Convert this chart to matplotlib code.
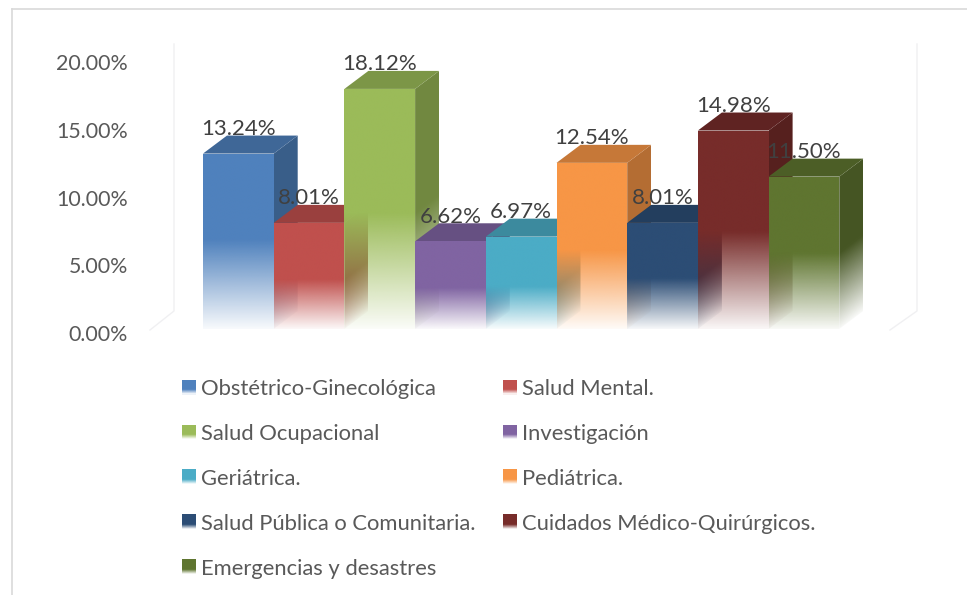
import numpy as np
import matplotlib
matplotlib.use("Agg")
import matplotlib.pyplot as plt
from matplotlib.patches import Patch, Polygon, Rectangle
from matplotlib.legend_handler import HandlerBase
from matplotlib.colors import to_rgb
from matplotlib.lines import Line2D

categories = ["Obstétrico-Ginecológica", "Salud Mental.", "Salud Ocupacional", "Investigación",
              "Geriátrica.", "Pediátrica.", "Salud Pública o Comunitaria.",
              "Cuidados Médico-Quirúrgicos.", "Emergencias y desastres"]
values = [13.24, 8.01, 18.12, 6.62, 6.97, 12.54, 8.01, 14.98, 11.50]
fade_from = [6.7, 3.7, 8.7, 3.1, 3.2, 5.9, 3.8, 7.3, 5.7]
colors = ["#4F81BD", "#C0504D", "#9BBB59", "#8064A2", "#4BACC6", "#F79646", "#2C4D75", "#772C2A", "#5F7530"]
y_ticks = [0, 5, 10, 15, 20]
y_tick_labels = ["0.00%", "5.00%", "10.00%", "15.00%", "20.00%"]

W, H = 967, 595
FONT = "Lato"
FS = 15.85
PXU, PYU = 70.7, 13.25         # pixels per bar / per percentage point
DX, DY = 24 / PXU, 18 / PYU    # 3-D depth in data units

fig = plt.figure(figsize=(W / 100, H / 100), dpi=100, facecolor="white")
def rect(l, t, r, b):
    return [l / W, 1 - b / H, (r - l) / W, (b - t) / H]

# Outer frame and faint 3-D walls (figure decoration)
for xs, ys, c, lw in [([11.5, 11.5], [595, 8.5], "#D9D9D9", 1.2), ([11.5, 967], [8.5, 8.5], "#D9D9D9", 1.2),
                      ([174, 174, 150], [44, 311, 330], "#F0F0F2", 1.0),
                      ([917, 917, 890], [44, 311, 330], "#F0F0F2", 1.0)]:
    fig.add_artist(Line2D([x / W for x in xs], [1 - y / H for y in ys], color=c, lw=lw))

# Bars
ax = fig.add_axes(rect(203, 329 - 22 * PYU, 203 + 9.5 * PXU, 329))
ax.set_xlim(0, 9.5)
ax.set_ylim(0, 22)
ax.axis("off")

def darker(c, f):
    return tuple(v * f for v in to_rgb(c))

def alpha_of(v, start):
    return np.clip(0.04 + 0.96 * v / start, 0, 1)

def face(x0, x1, y0, y1, color, start, skew, clip, z):
    xs = np.linspace(0, 1, 120)
    ys = np.linspace(y0, y1, 400)
    X, Y = np.meshgrid(xs, ys)
    v = Y - skew * X
    img = np.zeros((400, 120, 4))
    img[..., :3] = color
    img[..., 3] = alpha_of(v, start)
    im = ax.imshow(img, extent=(x0, x1, y0, y1), origin="lower", aspect="auto",
                   interpolation="bilinear", zorder=z)
    patch = Polygon(clip, closed=True, transform=ax.transData, fc="none", ec="none")
    im.set_clip_path(patch)

z = 2
for i, (val, start, col) in enumerate(zip(values, fade_from, colors)):
    l, r = i, i + 1
    # side face
    face(r, r + DX, 0, val + DY, darker(col, 0.73), start, DY,
         [(r, 0), (r + DX, DY), (r + DX, val + DY), (r, val)], z)
    # top face
    ax.add_patch(Polygon([(l, val), (r, val), (r + DX, val + DY), (l + DX, val + DY)],
                         closed=True, fc=darker(col, 0.8), ec="none", zorder=z + 1))
    # front face
    face(l, r, 0, val, to_rgb(col), start, 0, [(l, 0), (r, 0), (r, val), (l, val)], z + 2)
    z += 3

ax.set_xlim(0, 9.5)
ax.set_ylim(0, 22)

for i, val in enumerate(values):
    ax.text(i + 0.5, val + 1.85, f"{val:.2f}%", ha="center", va="center", fontsize=16,
            color="#404040", family=FONT, zorder=100)

# Value axis labels
ay = fig.add_axes(rect(135, 62, 140, 333))
ay.set_ylim(0, 20)
ay.set_xticks([])
ay.set_yticks(y_ticks)
ay.set_yticklabels(y_tick_labels, family=FONT, fontsize=15.4, color="#595959")
ay.tick_params(axis="y", length=0, pad=5)
for s in ay.spines.values():
    s.set_visible(False)
ay.patch.set_alpha(0)

# Legend with gradient swatches
class GradientHandler(HandlerBase):
    def create_artists(self, legend, orig, xd, yd, width, height, fontsize, trans):
        col = to_rgb(orig.get_facecolor())
        out = []
        n = 14
        for k in range(n):
            f = k / n
            a = 1.0 if f > 0.3 else 0.1 + 0.9 * f / 0.3
            c = tuple(a * v + (1 - a) for v in col)
            out.append(Rectangle((-xd, -yd + height * f), width, height / n + 0.2,
                                 fc=c, ec="none", transform=trans))
        return out

order = [0, 2, 4, 6, 8, 1, 3, 5, 7]
handles = [Patch(facecolor=colors[i]) for i in order]
labels = [categories[i] for i in order]
leg = fig.legend(handles, labels, handler_map={Patch: GradientHandler()}, ncols=2,
                 loc="upper left", bbox_to_anchor=(182 / W, 1 - 379 / H),
                 frameon=False, borderpad=0, borderaxespad=0,
                 prop={"family": FONT, "size": FS}, labelcolor="#595959",
                 handlelength=10.08 / FS, handleheight=10.08 / FS, handletextpad=0.23,
                 labelspacing=1.13, columnspacing=1.24)

fig.savefig("out.png", dpi=100)
